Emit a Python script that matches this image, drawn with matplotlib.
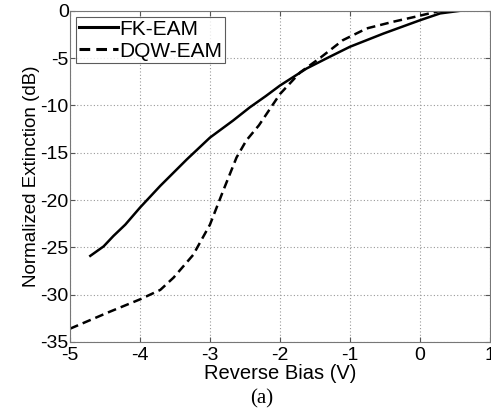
import matplotlib
matplotlib.use('Agg')
import matplotlib.pyplot as plt

# FK-EAM (solid)
fk_v = [-4.71, -4.52, -4.38, -4.21, -4.0, -3.71, -3.33, -3.0, -2.67, -2.43, -2.2, -2.0,
        -1.62, -1.3, -1.0, -0.52, 0.0, 0.29, 0.57]
fk_db = [-25.9, -24.9, -23.8, -22.6, -20.8, -18.5, -15.7, -13.4, -11.6, -10.2, -9.0, -7.9,
         -6.1, -4.9, -3.8, -2.4, -1.0, -0.27, 0.0]

# DQW-EAM (dashed)
dqw_v = [-5.0, -4.43, -4.0, -3.71, -3.52, -3.24, -3.0, -2.81, -2.62, -2.48, -2.3, -2.0,
         -1.71, -1.43, -1.1, -0.76, -0.38, -0.05, 0.29]
dqw_db = [-33.6, -31.8, -30.5, -29.5, -28.2, -25.8, -22.6, -19.0, -15.5, -13.7, -12.1, -8.8,
          -6.5, -5.0, -3.1, -1.86, -1.15, -0.6, 0.0]

plt.rcParams['font.family'] = ['Liberation Sans', 'DejaVu Sans']
plt.rcParams['axes.unicode_minus'] = False

fig = plt.figure(figsize=(4.91, 4.17), dpi=100)
ax = fig.add_axes([0.1426, 0.18, 0.855, 0.794])

ax.plot(fk_v, fk_db, 'k-', lw=1.8, label='FK-EAM')
ax.plot(dqw_v, dqw_db, 'k--', lw=1.8, dashes=(3.5, 2), label='DQW-EAM')

ax.set_xlim(-5, 1)
ax.set_ylim(-35, 0)
ax.set_xticks([-5, -4, -3, -2, -1, 0, 1])
ax.set_yticks([-35, -30, -25, -20, -15, -10, -5, 0])
ax.grid(True, ls=(0, (1, 2)), color='#999999', lw=0.8)
ax.tick_params(direction='in', top=True, right=True, labelsize=14, colors='#555555',
               labelcolor='black')
ax.tick_params(axis='x', pad=4)
ax.tick_params(axis='y', pad=1)
for s in ax.spines.values():
    s.set_color('#777777')

ax.set_xlabel('Reverse Bias (V)', fontsize=14.5, labelpad=0)
ax.set_ylabel('Normalized Extinction (dB)', fontsize=13.5, labelpad=0)

leg = ax.legend(loc='upper left', fontsize=15, frameon=True, fancybox=False,
                edgecolor='#333333', handlelength=1.9, handletextpad=0.05,
                borderpad=0.12, labelspacing=0.15, borderaxespad=0.3)
leg.get_frame().set_linewidth(0.8)
for h in leg.get_lines():
    h.set_linewidth(2.2)

fig.text(262 / 491, 1 - 399 / 417, '(a)', fontsize=15, family='Liberation Serif',
         ha='center', va='center')

fig.savefig('out.png', dpi=100)
